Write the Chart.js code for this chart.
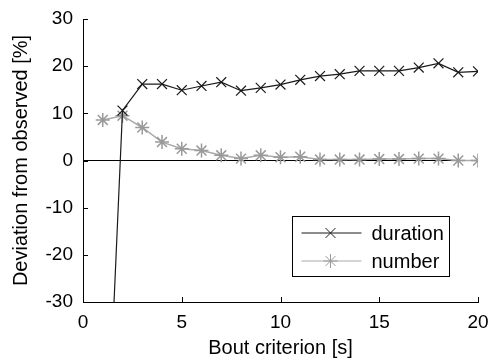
<!DOCTYPE html>
<html>
<head>
<meta charset="utf-8">
<script src="https://cdn.jsdelivr.net/npm/chart.js@4/dist/chart.umd.min.js"></script>
<style>
  html, body { margin: 0; padding: 0; background: #fff; }
</style>
</head>
<body>
<canvas id="chartLine" width="490" height="363"></canvas>
<script>
const criterion = [1, 2, 3, 4, 5, 6, 7, 8, 9, 10, 11, 12, 13, 14, 15, 16, 17, 18, 19, 20];
const durationDev = [-84, 10.6, 16.2, 16.2, 14.9, 15.8, 16.6, 14.8, 15.4, 16.1, 17.1, 17.9, 18.3, 19.0, 19.0, 19.0, 19.7, 20.6, 18.7, 18.9];
const numberDev = [8.6, 9.5, 7.0, 3.9, 2.5, 2.1, 1.1, 0.4, 1.1, 0.7, 0.8, 0.2, 0.2, 0.2, 0.3, 0.3, 0.4, 0.4, 0.0, 0.0];
const xTicks = [0, 5, 10, 15, 20];
const yTicks = [-30, -20, -10, 0, 10, 20, 30];
const seriesNames = ["duration", "number"];

const FONT = "'Liberation Sans', Arial, sans-serif";
const durColor = "#1a1a1a";
const numColor = "#9a9a9a";

function toPoints(ys) {
  return criterion.map((x, i) => ({ x: x, y: ys[i] }));
}

// inward tick marks
const axisTicks = {
  id: "axisTicks",
  afterDraw(chart) {
    const ctx = chart.ctx;
    const area = chart.chartArea;
    const xs = chart.scales.x;
    const ys = chart.scales.y;
    ctx.save();
    ctx.strokeStyle = "#000";
    ctx.lineWidth = 1;
    ctx.beginPath();
    xTicks.forEach((v) => {
      const px = Math.round(xs.getPixelForValue(v)) + 0.5;
      ctx.moveTo(px, area.bottom);
      ctx.lineTo(px, area.bottom - 5);
    });
    yTicks.forEach((v) => {
      const py = Math.round(ys.getPixelForValue(v)) + 0.5;
      ctx.moveTo(area.left, py);
      ctx.lineTo(area.left + 5, py);
    });
    ctx.stroke();
    ctx.restore();
  },
};

function drawMarker(ctx, style, x, y, r) {
  ctx.beginPath();
  if (style === "crossRot" || style === "star") {
    const d = r * Math.SQRT1_2;
    ctx.moveTo(x - d, y - d); ctx.lineTo(x + d, y + d);
    ctx.moveTo(x - d, y + d); ctx.lineTo(x + d, y - d);
  }
  if (style === "star") {
    ctx.moveTo(x, y - r); ctx.lineTo(x, y + r);
    ctx.moveTo(x - r, y); ctx.lineTo(x + r, y);
  }
  ctx.stroke();
}

// boxed legend inside the plot
const boxLegend = {
  id: "boxLegend",
  afterDraw(chart) {
    const ctx = chart.ctx;
    const bx = 292.5, by = 216.5, bw = 157, bh = 60;
    ctx.save();
    ctx.fillStyle = "#fff";
    ctx.fillRect(bx, by, bw, bh);
    ctx.strokeStyle = "#000";
    ctx.lineWidth = 1;
    ctx.strokeRect(bx, by, bw, bh);
    chart.data.datasets.forEach((ds, i) => {
      const ly = by + 16.5 + i * 28;
      ctx.strokeStyle = ds.borderColor;
      ctx.lineWidth = 1;
      ctx.beginPath();
      ctx.moveTo(bx + 9, ly);
      ctx.lineTo(bx + 69, ly);
      ctx.stroke();
      ctx.strokeStyle = ds.pointBorderColor;
      drawMarker(ctx, ds.pointStyle, bx + 38, ly, 7);
      ctx.fillStyle = "#000";
      ctx.font = "20px " + FONT;
      ctx.textBaseline = "middle";
      ctx.fillText(seriesNames[i], bx + 79, ly + 1);
    });
    ctx.restore();
  },
};

const data = {
  datasets: [
    {
      label: seriesNames[0],
      data: toPoints(durationDev),
      borderColor: durColor,
      borderWidth: 1.2,
      pointStyle: "crossRot",
      pointRadius: 7,
      pointBorderColor: durColor,
      pointBorderWidth: 1.2,
      pointBackgroundColor: "transparent",
    },
    {
      label: seriesNames[1],
      data: toPoints(numberDev),
      borderColor: "#ababab",
      borderWidth: 1.5,
      pointStyle: "star",
      pointRadius: 7,
      pointBorderColor: numColor,
      pointBorderWidth: 1.5,
      pointBackgroundColor: "transparent",
    },
  ],
};

const configLineChart = {
  type: "line",
  data,
  options: {
    responsive: false,
    animation: false,
    layout: { padding: { top: 19, right: 12, left: 0, bottom: 0 } },
    plugins: {
      legend: { display: false },
      tooltip: { enabled: false },
    },
    scales: {
      x: {
        type: "linear",
        min: 0,
        max: 20,
        afterBuildTicks: (s) => { s.ticks = xTicks.map((v) => ({ value: v })); },
        afterFit: (s) => { s.height = 61; s.paddingLeft = 0; s.paddingRight = 0; },
        grid: { display: false, drawTicks: false },
        border: { display: true, color: "#000", width: 1 },
        ticks: { color: "#000", padding: 9, font: { family: FONT, size: 19 } },
        title: {
          display: true,
          text: "Bout criterion [s]",
          color: "#000",
          padding: { top: 0, bottom: 3 },
          font: { family: FONT, size: 20 },
        },
      },
      y: {
        min: -30,
        max: 30,
        afterBuildTicks: (s) => { s.ticks = yTicks.map((v) => ({ value: v })); },
        afterFit: (s) => { s.width = 83; s.paddingTop = 0; s.paddingBottom = 0; },
        grid: {
          drawTicks: false,
          color: (c) => (c.tick && c.tick.value === 0 ? "#000" : "transparent"),
          lineWidth: 1,
        },
        border: { display: true, color: "#000", width: 1 },
        ticks: { color: "#000", padding: 10, font: { family: FONT, size: 19 } },
        title: {
          display: true,
          text: "Deviation from observed [%]",
          color: "#000",
          padding: { top: 9, bottom: 0 },
          font: { family: FONT, size: 20 },
        },
      },
    },
  },
  plugins: [axisTicks, boxLegend],
};

var chartLine = new Chart(document.getElementById("chartLine"), configLineChart);
</script>
</body>
</html>
